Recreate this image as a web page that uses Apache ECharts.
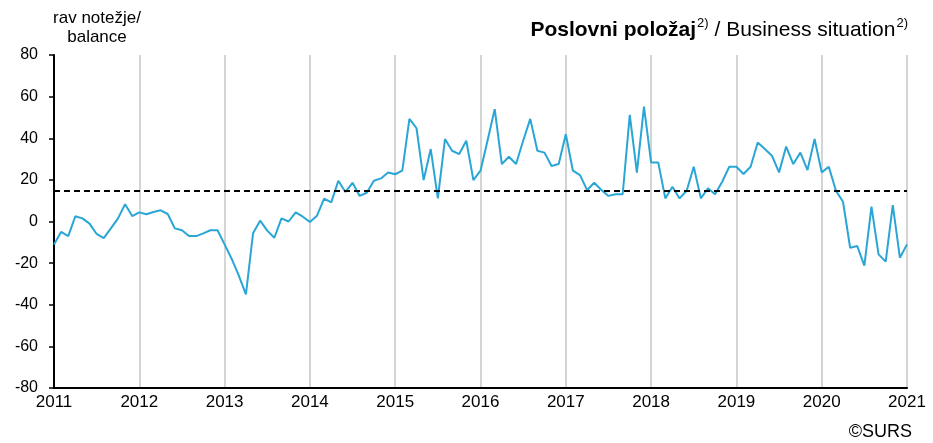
<!DOCTYPE html>
<html>
<head>
<meta charset="utf-8">
<script src="https://cdn.jsdelivr.net/npm/echarts@6/dist/echarts.min.js"></script>
<style>
  html, body { margin: 0; padding: 0; background: #fff; }
  #main { width: 933px; height: 443px; }
</style>
</head>
<body>
<div id="main"></div>
<script>
// monthly, Jan 2011 .. Jan 2021
const years = ['2011','2012','2013','2014','2015','2016','2017','2018','2019','2020','2021']
const months = []
years.forEach(y => {
  for (let m = 1; m <= 12; m++) {
    if (y === '2021' && m > 1) break
    months.push(y + '-' + (m < 10 ? '0' + m : m))
  }
})

const balance = [
  -11, -5, -7, 2.5, 1.5, -1, -6, -8, -3.3, 1.5, 8.3, 2.6,
  4.4, 3.5, 4.6, 5.4, 3.6, -3.3, -4.2, -7, -7, -5.7, -4.2, -4.2,
  -11, -18, -26, -35, -5.7, 0.4, -4.4, -7.8, 1.5, 0, 4.4, 2.3,
  -0.2, 2.8, 11, 9.2, 19.6, 14.2, 18.6, 12.3, 13.8, 19.6, 20.7, 23.5,
  22.7, 24.4, 49.3, 44.8, 19.9, 34.8, 11.1, 39.6, 34, 32.4, 38.8, 19.9,
  24.4, 39, 54, 27.6, 31.1, 27.6, 38.8, 49.3, 34, 33.1, 26.7, 27.6,
  41.9, 24.4, 22.3, 15.1, 18.6, 15.1, 12.3, 13.1, 13.1, 51.2, 23.5, 55.2,
  28.4, 28.4, 11.1, 16.7, 11.1, 14.8, 26.3, 11.1, 16, 13.1, 19.1, 26.3,
  26.3, 22.8, 26.3, 38, 34.8, 31.6, 23.6, 36, 27.6, 33.1, 24.7, 39.6,
  23.6, 26.3, 14.8, 9.5, -12.6, -11.8, -21.2, 7.1, -15.8, -19.3, 7.9, -17.4,
  -11
]
const longTermAvg = 15

const font = "'Liberation Sans', Arial, sans-serif"

var myChart = echarts.init(document.getElementById('main'))
myChart.setOption({
  animation: false,
  textStyle: { fontFamily: font },
  title: {
    right: 20,
    top: 12,
    text: '{b|Poslovni položaj}{s|2)}{n| / Business situation}{s|2)}',
    textStyle: {
      rich: {
        b: { fontFamily: font, fontSize: 21, fontWeight: 'bold', color: '#000', lineHeight: 26 },
        n: { fontFamily: font, fontSize: 21, fontWeight: 'normal', color: '#000', lineHeight: 26 },
        s: { fontFamily: font, fontSize: 13, fontWeight: 'normal', color: '#000', verticalAlign: 'top', lineHeight: 26, padding: [0, 0, 8, 1] }
      }
    }
  },
  graphic: [
    {
      type: 'text', x: 97, y: 9,
      style: { text: 'rav notežje/\nbalance', font: '17px ' + font, fill: '#000', align: 'center', lineHeight: 19 }
    },
    {
      type: 'text', right: 21, top: 423,
      style: { text: '©SURS', font: '18px ' + font, fill: '#000' }
    }
  ],
  grid: { left: 54, right: 26, top: 55, bottom: 55, containLabel: false },
  xAxis: {
    type: 'category',
    data: months,
    boundaryGap: false,
    axisLine: { onZero: false, lineStyle: { color: '#000', width: 2 } },
    axisTick: { show: false, interval: 11 },
    axisLabel: {
      interval: 11,
      color: '#000',
      fontSize: 17,
      margin: 6,
      formatter: v => v.slice(0, 4)
    },
    splitLine: { show: true, interval: 11, lineStyle: { color: '#d4d4d4', width: 2 } }
  },
  yAxis: {
    type: 'value',
    min: -80,
    max: 80,
    interval: 20,
    axisLine: { show: true, lineStyle: { color: '#000', width: 2 } },
    axisTick: { show: true, length: 5, lineStyle: { color: '#000', width: 1.5 } },
    axisLabel: { color: '#000', fontSize: 16, margin: 16 },
    splitLine: { show: false }
  },
  series: [
    {
      name: 'balance',
      type: 'line',
      data: balance,
      symbol: 'none',
      lineStyle: { color: '#2aa6d6', width: 2 },
      markLine: {
        silent: true,
        symbol: 'none',
        label: { show: false },
        lineStyle: { color: '#000', type: [6, 4], width: 2 },
        data: [{ yAxis: longTermAvg }]
      }
    }
  ]
})
</script>
</body>
</html>
